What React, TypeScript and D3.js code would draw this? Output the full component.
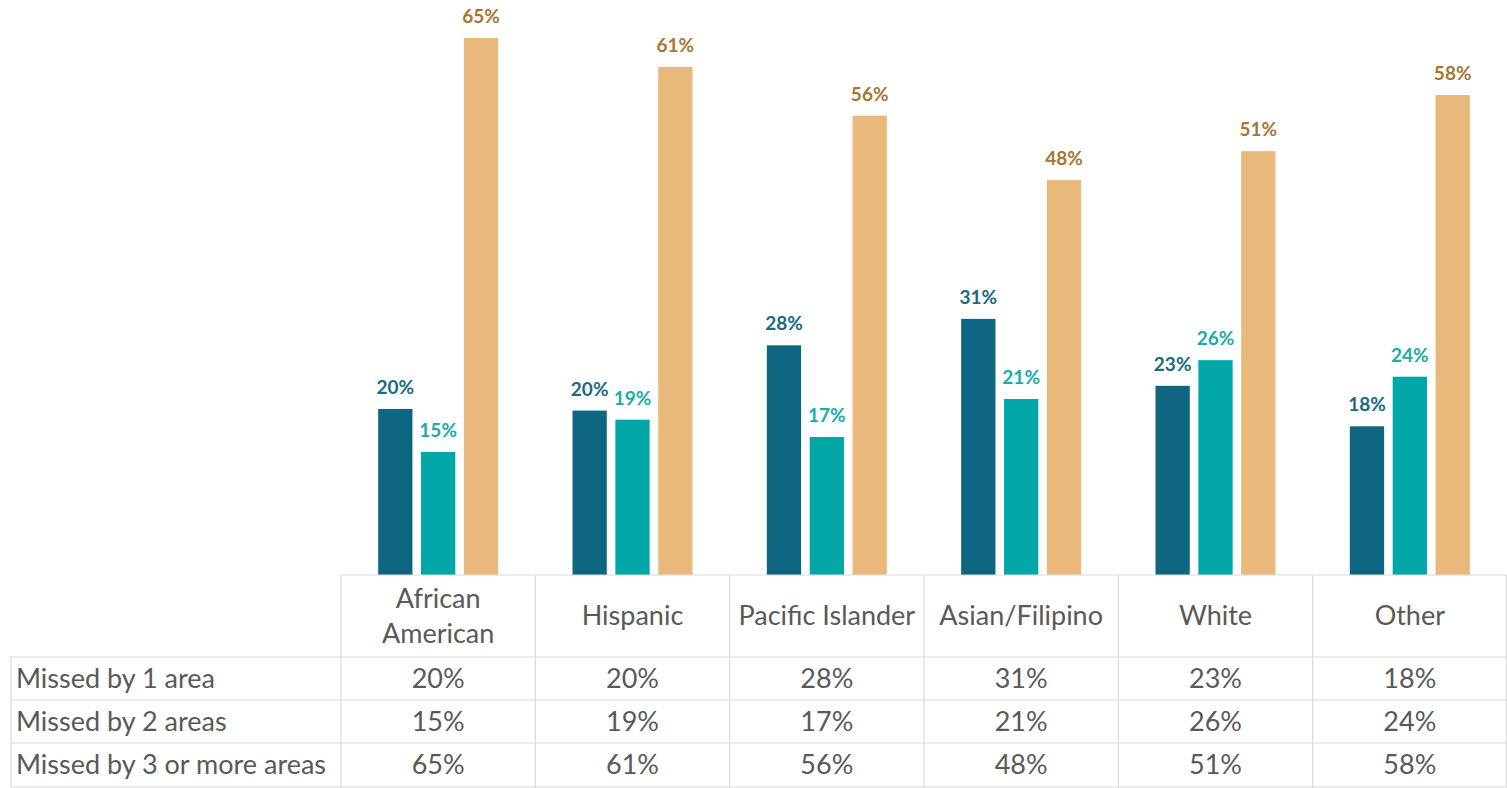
import React from 'react';
import * as d3 from 'd3';

const categories = ['African American', 'Hispanic', 'Pacific Islander', 'Asian/Filipino', 'White', 'Other'];
const seriesNames = ['Missed by 1 area', 'Missed by 2 areas', 'Missed by 3 or more areas'];
const missed1 = [20.1, 19.9, 27.8, 31, 22.9, 18];
const missed2 = [14.9, 18.8, 16.7, 21.3, 26, 24];
const missed3 = [65, 61.5, 55.6, 47.8, 51.3, 58.1];
const labels1 = ['20%', '20%', '28%', '31%', '23%', '18%'];
const labels2 = ['15%', '19%', '17%', '21%', '26%', '24%'];
const labels3 = ['65%', '61%', '56%', '48%', '51%', '58%'];

const series = [
  { name: seriesNames[0], values: missed1, labels: labels1, fill: '#0e6680', text: '#1b6a80' },
  { name: seriesNames[1], values: missed2, labels: labels2, fill: '#00a7a6', text: '#1aaca6' },
  { name: seriesNames[2], values: missed3, labels: labels3, fill: '#e8b97a', text: '#a87631' },
];

const W = 1507;
const H = 788;
const font = 'Lato, "Noto Sans", sans-serif';

export default function App() {
  const tableLeft = 11;
  const plotLeft = 341;
  const plotRight = 1507;
  const baseline = 575;
  const rowLines = [575, 657, 700, 743, 787];

  // group bands across the table columns
  const x0 = d3.scaleBand<string>().domain(categories).range([plotLeft, plotRight]);
  const x1 = d3.scaleBand<string>()
    .domain(seriesNames)
    .range([0, 120])
    .paddingInner(0.2);
  const groupOffset = (x0.bandwidth() - 120) / 2;

  const y = d3.scaleLinear().domain([0, 65]).range([baseline, 38]);

  return (
    <svg width={W} height={H} style={{ position: 'absolute', left: 0, top: 0, background: '#fff' }}>
      {/* bars */}
      {categories.map((c, i) => (
        <g key={c} transform={`translate(${(x0(c) || 0) + groupOffset},0)`}>
          {series.map(s => {
            const bx = x1(s.name) || 0;
            const v = s.values[i];
            return (
              <g key={s.name}>
                <rect x={bx} y={y(v)} width={x1.bandwidth()} height={baseline - y(v)} fill={s.fill} />
                <text
                  x={bx + x1.bandwidth() / 2}
                  y={y(v) - 15}
                  textAnchor="middle"
                  fontFamily={font}
                  fontWeight={700}
                  fontSize={19}
                  fill={s.text}
                >
                  {s.labels[i]}
                </text>
              </g>
            );
          })}
        </g>
      ))}

      {/* table grid */}
      <g stroke="#d9d9d9" strokeWidth={1.2} fill="none">
        <line x1={plotLeft} x2={plotRight} y1={rowLines[0]} y2={rowLines[0]} />
        {rowLines.slice(1).map(ly => (
          <line key={ly} x1={tableLeft} x2={plotRight} y1={ly} y2={ly} />
        ))}
        <line x1={tableLeft} x2={tableLeft} y1={rowLines[1]} y2={rowLines[4]} />
        {categories.map(c => (
          <line key={c} x1={x0(c) || 0} x2={x0(c) || 0} y1={rowLines[0]} y2={rowLines[4]} />
        ))}
        <line x1={plotRight - 0.5} x2={plotRight - 0.5} y1={rowLines[0]} y2={rowLines[4]} />
      </g>

      {/* header row */}
      {categories.map(c => {
        const cx = (x0(c) || 0) + x0.bandwidth() / 2;
        const parts = c === 'African American' ? ['African', 'American'] : [c];
        const mid = (rowLines[0] + rowLines[1]) / 2;
        return (
          <text key={c} textAnchor="middle" fontFamily={font} fontSize={27} fill="#595959">
            {parts.map((p, k) => (
              <tspan key={p} x={cx} y={mid + 9 + (k - (parts.length - 1) / 2) * 35}>{p}</tspan>
            ))}
          </text>
        );
      })}

      {/* data rows */}
      {series.map((s, r) => {
        const ty = (rowLines[r + 1] + rowLines[r + 2]) / 2 + 9;
        return (
          <g key={s.name} fontFamily={font} fontSize={27} fill="#595959">
            <text x={16} y={ty}>{s.name}</text>
            {categories.map((c, i) => (
              <text key={c} x={(x0(c) || 0) + x0.bandwidth() / 2} y={ty} textAnchor="middle">
                {s.labels[i]}
              </text>
            ))}
          </g>
        );
      })}
    </svg>
  );
}
